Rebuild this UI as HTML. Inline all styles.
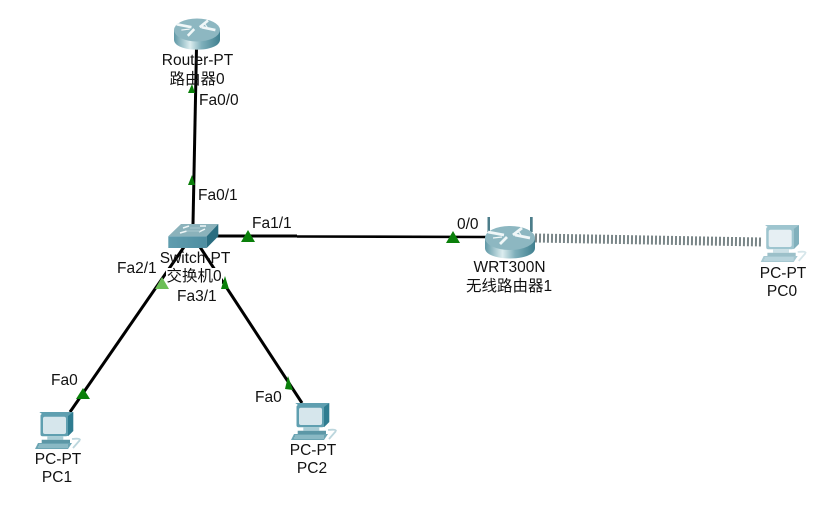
<!DOCTYPE html>
<html>
<head>
<meta charset="utf-8">
<style>
html,body{margin:0;padding:0;background:#fff;width:813px;height:514px;overflow:hidden}
svg{display:block}
text{font-family:"Liberation Sans","Noto Sans CJK SC",sans-serif;font-size:15.5px;fill:#111}
.m{text-anchor:middle}
</style>
</head>
<body>
<svg width="813" height="514" viewBox="0 0 813 514" xmlns="http://www.w3.org/2000/svg">
<defs>
<linearGradient id="rb" x1="0" x2="1" y1="0" y2="0">
<stop offset="0" stop-color="#5f98a6"/><stop offset=".35" stop-color="#dcedef"/><stop offset=".6" stop-color="#7fb0bb"/><stop offset="1" stop-color="#3f7f8f"/>
</linearGradient>
<linearGradient id="sf" x1="0" x2="1" y1="0" y2="0">
<stop offset="0" stop-color="#5f9cae"/><stop offset="1" stop-color="#4f8ea1"/>
</linearGradient>
<g id="router">
<path d="M0 12 V22 C0 36 50 36 50 22 V12 Z" fill="url(#rb)"/>
<ellipse cx="25" cy="12" rx="25" ry="12" fill="#8db7c1"/>
<path d="M3 6 L19 9 M15 18 L22 11 M45 12 L30 9 M37 2 L28 9" stroke="#f0f7f8" stroke-width="2.800" fill="none"/>
<path d="M8 12 L17 11 M33 5 L36 9" stroke="#f0f7f8" stroke-width="1.200" fill="none"/>
</g>
<g id="pc">
<path d="M4.300 0 H38.300 L33 5 V24 H7 V2 Z" fill="#5f9fb0"/>
<path d="M33 4 L38.300 0 V19 L33 24.300 Z" fill="#2f7c90"/>
<rect x="5.500" y="2" width="27.500" height="22.300" rx="2" fill="#5f9fb0"/>
<rect x="8" y="4.800" width="23" height="17.200" rx="2" fill="#d6e6ec"/>
<path d="M12.300 24.300 H28.300 V27.700 H12.300 Z" fill="#a9cdd6"/>
<path d="M6.700 27.700 H35 V31 H6.700 Z" fill="#5c97a6"/>
<path d="M3 31 H37 L33 37 H0 Z" fill="#6ca5b3"/>
<path d="M4 33 H33 M3 35 H33" stroke="#a9cdd6" stroke-width="1"/>
<path d="M37 27 Q45 26 45 28 M45 28 L38 36" fill="none" stroke="#bcd6dd" stroke-width="1.800"/>
</g>
</defs>

<!-- links -->
<g stroke="#000" stroke-width="3" fill="none">
<path d="M196.500 48 L193 224"/>
<path d="M216 236 L297 236"/>
<path d="M297 236.500 L486 237" stroke-width="2.600"/>
<path d="M184 247 L70 412"/>
<path d="M200 247 L302 403"/>
</g>
<path d="M535 238 L762 242" stroke="#7a8688" stroke-width="9" stroke-dasharray="2 2" fill="none"/>

<!-- masks under label -->
<rect x="166" y="268" width="56" height="15" fill="#fff"/>

<!-- link lights -->
<g fill="#0a7f0a">
<path d="M192 84 L188 93 H195 Z"/>
<path d="M192 175 L188 185 H195 Z"/>
<path d="M248 230 L241 242 H255 Z"/>
<path d="M453 231 L446 243 H460 Z"/>
<path d="M225 276 L221 289 H229 Z"/>
<path d="M83 388 L76 399 H90 Z"/>
<path d="M288 376 L285 389 L293 390 Z"/>
</g>
<path d="M162 277 L155 289 H169 Z" fill="#6cbf57"/>

<!-- devices -->
<use href="#router" transform="translate(174 18.500) scale(.92 .96)"/>
<!-- switch -->
<path d="M168.300 236.300 L181 224 H218.300 L206.700 236.300 Z" fill="#8bb2bb"/>
<rect x="168.300" y="236.300" width="38.400" height="11.700" fill="url(#sf)"/>
<path d="M206.700 236.300 L218.300 224 V236.300 L206.700 248 Z" fill="#2a6d80"/>
<path d="M183 228 L189 226 M200 226 L206 226 M180 233 L187 231 M199 232 L205 229" stroke="#eef6f7" stroke-width="1.500" fill="none"/>
<path d="M186 231 L200 231 M190 228 L200 228" stroke="#a9c8cf" stroke-width="1" fill="none"/>

<!-- wireless router -->
<path d="M487.500 232 V217 H490 V232 Z" fill="#4c7d8a"/>
<path d="M530 232 V217 H532.700 V232 Z" fill="#4c7d8a"/>
<use href="#router" transform="translate(485 226)"/>

<use href="#pc" x="760.700" y="225" opacity=".6"/>
<use href="#pc" x="35" y="412"/>
<use href="#pc" x="291" y="403"/>

<!-- labels -->
<text class="m" x="197.500" y="65">Router-PT</text>
<text class="m" x="197" y="84">路由器0</text>
<text x="199" y="105">Fa0/0</text>
<text x="198" y="200">Fa0/1</text>
<text x="252" y="228">Fa1/1</text>
<text x="457" y="229">0/0</text>
<text class="m" x="195" y="263">Switch-PT</text>
<text class="m" x="194" y="281">交换机0</text>
<text x="117" y="273">Fa2/1</text>
<text x="177" y="301">Fa3/1</text>
<text class="m" x="509.500" y="272">WRT300N</text>
<text class="m" x="509" y="291">无线路由器1</text>
<text class="m" x="783" y="278">PC-PT</text>
<text class="m" x="782" y="296">PC0</text>
<text x="51" y="385">Fa0</text>
<text x="255" y="402">Fa0</text>
<text class="m" x="58" y="464">PC-PT</text>
<text class="m" x="57" y="482">PC1</text>
<text class="m" x="313" y="455">PC-PT</text>
<text class="m" x="312" y="473">PC2</text>
</svg>
</body>
</html>
